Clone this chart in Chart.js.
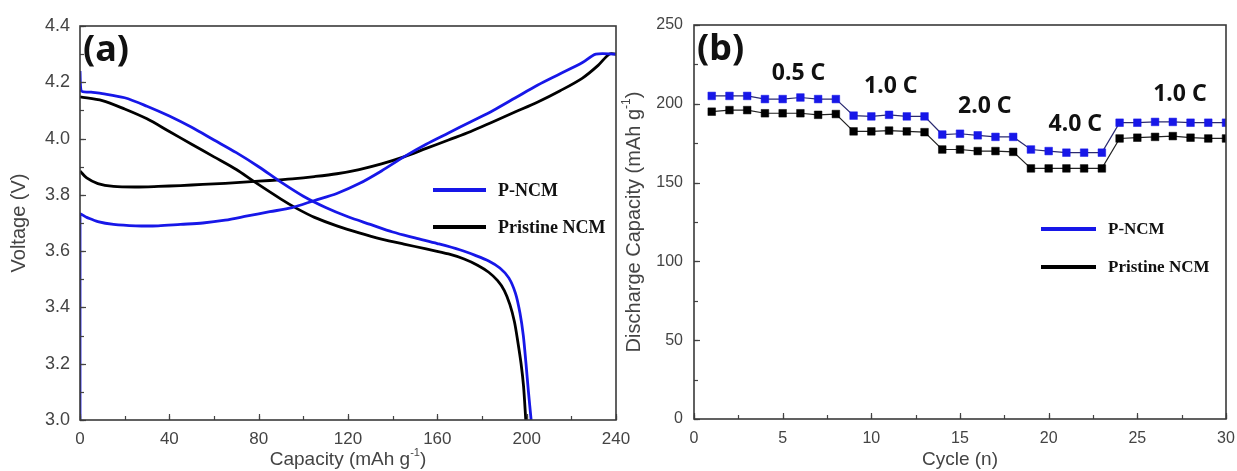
<!DOCTYPE html>
<html>
<head>
<meta charset="utf-8">
<script src="https://cdn.jsdelivr.net/npm/chart.js@4.4.0/dist/chart.umd.min.js"></script>
<style>
  html, body { margin: 0; padding: 0; background: #fff; }
  body { width: 1237px; height: 471px; position: relative; overflow: hidden; }
  canvas { position: absolute; top: 0; }
  #chartA { left: 0; }
  #chartB { left: 600px; }
</style>
</head>
<body>
<canvas id="chartA" width="650" height="471"></canvas>
<canvas id="chartB" width="637" height="471"></canvas>
<script>
// ---------- Panel (a): voltage profiles ----------
const pncmChargeCap = [0, 0, 3, 8, 15, 25, 35, 45, 55, 65, 75, 85, 95, 105, 115, 125, 135, 145, 155, 165, 175, 185, 195, 205, 215, 225, 231, 240];
const pncmChargeV   = [3.00, 3.73, 3.72, 3.705, 3.695, 3.69, 3.69, 3.695, 3.70, 3.71, 3.725, 3.74, 3.755, 3.78, 3.805, 3.84, 3.885, 3.935, 3.98, 4.02, 4.06, 4.10, 4.145, 4.19, 4.23, 4.27, 4.30, 4.30];

const pncmDischargeCap = [0, 0.5, 5, 10, 20, 30, 40, 50, 60, 70, 80, 90, 100, 110, 120, 130, 140, 150, 160, 170, 177, 183, 188, 192, 195, 197, 198.5, 199.7, 200.8, 202];
const pncmDischargeV   = [4.24, 4.17, 4.165, 4.16, 4.145, 4.115, 4.08, 4.04, 3.995, 3.95, 3.90, 3.845, 3.795, 3.755, 3.722, 3.695, 3.668, 3.647, 3.627, 3.605, 3.585, 3.565, 3.54, 3.505, 3.45, 3.38, 3.30, 3.20, 3.10, 3.00];

const pristineChargeCap = [0, 3, 8, 15, 25, 35, 45, 55, 65, 75, 85, 95, 105, 115, 125, 135, 145, 155, 165, 175, 185, 195, 205, 215, 225, 232, 237, 240];
const pristineChargeV   = [3.885, 3.86, 3.84, 3.83, 3.828, 3.83, 3.833, 3.837, 3.841, 3.846, 3.851, 3.857, 3.865, 3.875, 3.89, 3.91, 3.935, 3.965, 3.995, 4.025, 4.06, 4.095, 4.13, 4.17, 4.215, 4.26, 4.30, 4.30];

const pristineDischargeCap = [0, 10, 20, 30, 40, 50, 60, 70, 78, 90, 97, 105, 115, 125, 135, 145, 155, 165, 172, 178, 183, 187, 190, 192.5, 194.5, 196, 197.5, 198.6, 199.6];
const pristineDischargeV   = [4.148, 4.135, 4.105, 4.07, 4.025, 3.98, 3.935, 3.89, 3.847, 3.785, 3.752, 3.72, 3.69, 3.665, 3.643, 3.625, 3.608, 3.59, 3.572, 3.55, 3.525, 3.495, 3.46, 3.41, 3.35, 3.28, 3.20, 3.12, 3.00];

// ---------- Panel (b): rate capability ----------
const cycles = [1,2,3,4,5,6,7,8,9,10,11,12,13,14,15,16,17,18,19,20,21,22,23,24,25,26,27,28,29,30];
const pncmCapacity     = [205, 205, 205, 203, 203, 204, 203, 203, 192.5, 192, 193, 192, 192, 180.5, 181, 180, 179, 179, 171, 170, 169, 169, 169, 188, 188, 188.5, 188.5, 188, 188, 188];
const pristineCapacity = [195, 196, 196, 194, 194, 194, 193, 193.5, 182.5, 182.5, 183, 182.5, 182, 171, 171, 170, 170, 169.5, 159, 159, 159, 159, 159, 178, 178.5, 179, 179.5, 178.5, 178, 178];

const rateLabels = ['0.5 C', '1.0 C', '2.0 C', '4.0 C', '1.0 C'];
const rateLabelX = [5.9, 11.1, 16.4, 21.5, 27.4];
const rateLabelY = [219, 211, 198, 187, 206];

const seriesNames = ['P-NCM', 'Pristine NCM'];
const BLUE = '#1717e8';
const BLACK = '#000000';
const TICK_FONT = "'Liberation Sans', Arial, sans-serif";

Chart.defaults.animation = false;

function toXY(xs, ys) { return xs.map((x, i) => ({ x: x, y: ys[i] })); }

function drawRich(ctx, parts, cx, cy, size, rotate) {
  ctx.save();
  ctx.translate(cx, cy);
  if (rotate) ctx.rotate(-Math.PI / 2);
  ctx.textBaseline = 'middle';
  ctx.textAlign = 'left';
  let total = 0;
  const widths = parts.map(p => {
    ctx.font = (p.sup ? Math.round(size * 0.6) : size) + 'px ' + TICK_FONT;
    const w = ctx.measureText(p.t).width;
    total += w;
    return w;
  });
  let x = -total / 2;
  parts.forEach((p, i) => {
    ctx.font = (p.sup ? Math.round(size * 0.6) : size) + 'px ' + TICK_FONT;
    ctx.fillText(p.t, x, p.sup ? -size * 0.38 : 0);
    x += widths[i];
  });
  ctx.restore();
}

const framePlugin = {
  id: 'frame',
  afterDraw(chart, args, o) {
    const { ctx, chartArea: a } = chart;
    const xs = chart.scales.x, ys = chart.scales.y;
    ctx.save();
    // inward ticks on bottom and left axes
    ctx.strokeStyle = '#444';
    ctx.lineWidth = 1.2;
    const tickX = (step, len) => {
      for (let v = xs.min; v <= xs.max + 1e-9; v += step) {
        const px = Math.round(xs.getPixelForValue(v)) + 0.5;
        ctx.beginPath(); ctx.moveTo(px, a.bottom); ctx.lineTo(px, a.bottom - len); ctx.stroke();
      }
    };
    const tickY = (step, len) => {
      for (let v = ys.min; v <= ys.max + 1e-9; v += step) {
        const py = Math.round(ys.getPixelForValue(v)) + 0.5;
        ctx.beginPath(); ctx.moveTo(a.left, py); ctx.lineTo(a.left + len, py); ctx.stroke();
      }
    };
    tickX(o.xMinor, 4); tickX(o.xMinor * 2, 6);
    tickY(o.yMinor, 4); tickY(o.yMinor * 2, 6);
    // frame
    ctx.strokeStyle = '#3a3a3a';
    ctx.lineWidth = 1.6;
    ctx.strokeRect(a.left, a.top, a.right - a.left, a.bottom - a.top);
    // axis titles
    ctx.fillStyle = '#444';
    drawRich(ctx, o.xTitle, (a.left + a.right) / 2, o.xTitleY, 19, false);
    drawRich(ctx, o.yTitle, o.yTitleX, (a.top + a.bottom) / 2, 20, true);
    // panel label
    ctx.fillStyle = '#111';
    ctx.font = "bold 36px 'Noto Sans', sans-serif";
    ctx.textAlign = 'left'; ctx.textBaseline = 'middle';
    ctx.fillText(o.panel, a.left + 3, a.top + 25);
    // rate annotations
    if (o.notes) {
      ctx.font = "bold 23px 'Noto Sans', sans-serif";
      ctx.textAlign = 'center';
      o.notes.text.forEach((t, i) => {
        ctx.fillText(t, xs.getPixelForValue(o.notes.x[i]), ys.getPixelForValue(o.notes.y[i]));
      });
    }
    // legend
    const L = o.legend;
    const seen = [];
    chart.data.datasets.forEach(ds => {
      if (seen.find(s => s.label === ds.label)) return;
      seen.push({ label: ds.label, color: ds.legendColor });
    });
    ctx.font = "bold " + L.size + "px 'Liberation Serif', 'Times New Roman', serif";
    ctx.textAlign = 'left'; ctx.textBaseline = 'middle';
    seen.forEach((s, i) => {
      const yy = L.y + i * L.gap;
      ctx.strokeStyle = s.color; ctx.lineWidth = 4;
      ctx.beginPath(); ctx.moveTo(L.x, yy); ctx.lineTo(L.x + L.len, yy); ctx.stroke();
      ctx.fillStyle = '#111';
      ctx.fillText(s.label, L.x + L.len + 12, yy + 1);
    });
    ctx.restore();
  }
};

const tickCommon = (size, pad) => ({ color: '#444', padding: pad, font: { family: TICK_FONT, size: size }, maxRotation: 0, autoSkip: false });

// ---------- Chart A ----------
new Chart(document.getElementById('chartA'), {
  type: 'scatter',
  data: {
    datasets: [
      { label: seriesNames[0], legendColor: BLUE, data: toXY(pncmChargeCap, pncmChargeV), borderColor: BLUE, borderWidth: 2.8, showLine: true, pointRadius: 0, tension: 0.3 },
      { label: seriesNames[0], legendColor: BLUE, data: toXY(pncmDischargeCap, pncmDischargeV), borderColor: BLUE, borderWidth: 2.8, showLine: true, pointRadius: 0, tension: 0.3 },
      { label: seriesNames[1], legendColor: BLACK, data: toXY(pristineChargeCap, pristineChargeV), borderColor: BLACK, borderWidth: 2.8, showLine: true, pointRadius: 0, tension: 0.3 },
      { label: seriesNames[1], legendColor: BLACK, data: toXY(pristineDischargeCap, pristineDischargeV), borderColor: BLACK, borderWidth: 2.8, showLine: true, pointRadius: 0, tension: 0.3 }
    ]
  },
  options: {
    responsive: false,
    devicePixelRatio: 1,
    layout: { padding: { left: 0, top: 26, right: 34, bottom: 0 } },
    plugins: {
      legend: { display: false }, tooltip: { enabled: false },
      frame: {
        xMinor: 20, yMinor: 0.1,
        xTitle: [{ t: 'Capacity (mAh g' }, { t: '-1', sup: true }, { t: ')' }], xTitleY: 460,
        yTitle: [{ t: 'Voltage (V)' }], yTitleX: 19,
        panel: '(a)',
        legend: { x: 433, y: 190, gap: 37, len: 53, size: 18 }
      }
    },
    scales: {
      x: { type: 'linear', min: 0, max: 240, grid: { display: false }, border: { display: false },
           ticks: Object.assign(tickCommon(17, 1), { stepSize: 40 }),
           afterFit: s => { s.height = 51; } },
      y: { type: 'linear', min: 3.0, max: 4.4, grid: { display: false }, border: { display: false },
           ticks: Object.assign(tickCommon(18, 2), { stepSize: 0.2, callback: v => v.toFixed(1) }),
           afterFit: s => { s.width = 80; } }
    }
  },
  plugins: [framePlugin]
});

// ---------- Chart B ----------
new Chart(document.getElementById('chartB'), {
  type: 'scatter',
  data: {
    datasets: [
      { label: seriesNames[0], legendColor: BLUE, data: toXY(cycles, pncmCapacity), borderColor: '#2a2a70', borderWidth: 1.2, showLine: true,
        pointStyle: 'rect', pointRadius: 5.4, pointBackgroundColor: BLUE, pointBorderColor: BLUE, pointBorderWidth: 0.5 },
      { label: seriesNames[1], legendColor: BLACK, data: toXY(cycles, pristineCapacity), borderColor: '#222', borderWidth: 1.2, showLine: true,
        pointStyle: 'rect', pointRadius: 5.4, pointBackgroundColor: BLACK, pointBorderColor: BLACK, pointBorderWidth: 0.5 }
    ]
  },
  options: {
    responsive: false,
    devicePixelRatio: 1,
    layout: { padding: { left: 0, top: 25, right: 11, bottom: 0 } },
    plugins: {
      legend: { display: false }, tooltip: { enabled: false },
      frame: {
        xMinor: 2.5, yMinor: 25,
        xTitle: [{ t: 'Cycle (n)' }], xTitleY: 460,
        yTitle: [{ t: 'Discharge Capacity (mAh g' }, { t: '-1', sup: true }, { t: ')' }], yTitleX: 34,
        panel: '(b)',
        notes: { text: rateLabels, x: rateLabelX, y: rateLabelY },
        legend: { x: 441, y: 229, gap: 38, len: 55, size: 17 }
      }
    },
    scales: {
      x: { type: 'linear', min: 0, max: 30, grid: { display: false }, border: { display: false },
           ticks: Object.assign(tickCommon(16, 2), { stepSize: 5 }),
           afterFit: s => { s.height = 52; } },
      y: { type: 'linear', min: 0, max: 250, grid: { display: false }, border: { display: false },
           ticks: Object.assign(tickCommon(16, 3), { stepSize: 50 }),
           afterFit: s => { s.width = 94; } }
    }
  },
  plugins: [framePlugin]
});
</script>
</body>
</html>
